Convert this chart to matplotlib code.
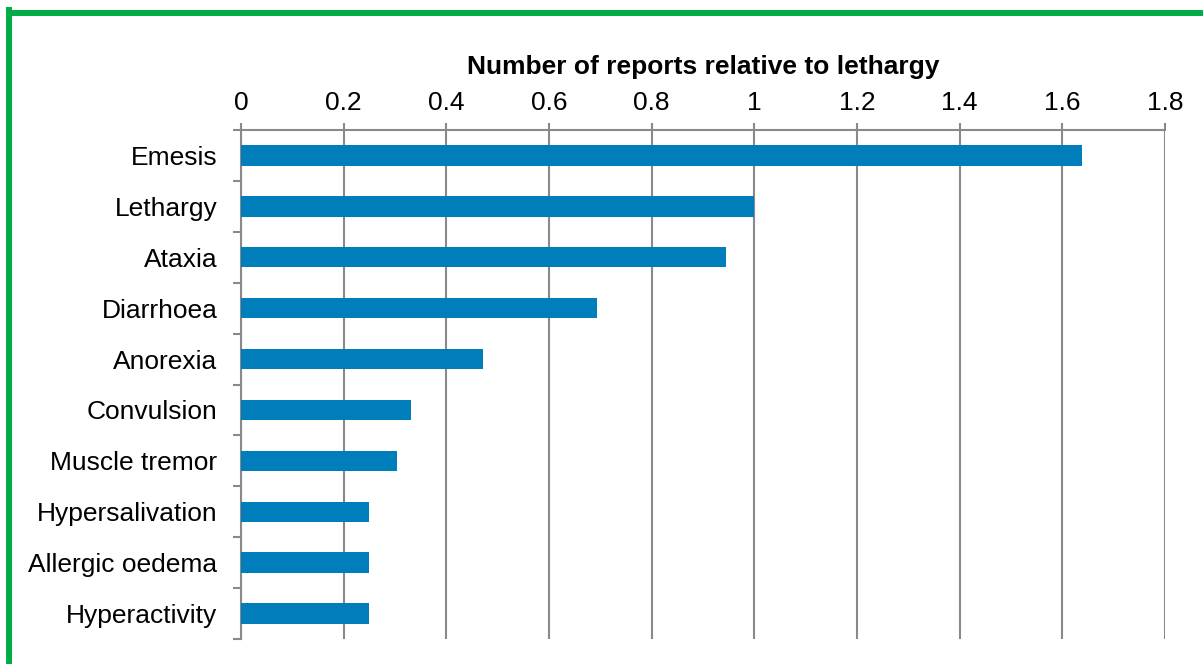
import matplotlib
matplotlib.use("Agg")
import matplotlib.pyplot as plt
from matplotlib.lines import Line2D
import numpy as np

categories = ["Emesis", "Lethargy", "Ataxia", "Diarrhoea", "Anorexia",
              "Convulsion", "Muscle tremor", "Hypersalivation",
              "Allergic oedema", "Hyperactivity"]
values = [1.638, 1.0, 0.945, 0.694, 0.471, 0.331, 0.304, 0.249, 0.25, 0.25]
xticks = [0, 0.2, 0.4, 0.6, 0.8, 1.0, 1.2, 1.4, 1.6, 1.8]
xticklabels = ["0", "0.2", "0.4", "0.6", "0.8", "1", "1.2", "1.4", "1.6", "1.8"]
title = "Number of reports relative to lethargy"

plt.rcParams['font.family'] = ['Liberation Sans', 'DejaVu Sans']

W, H = 1203, 664
fig = plt.figure(figsize=(W / 100, H / 100), dpi=100)
ax = fig.add_axes([241 / W, 1 - 639 / H, (1165 - 241) / W, (639 - 130) / H])

gray = "#898989"
y = np.arange(len(categories))
ax.barh(y, values, height=0.4, color="#007DBB", zorder=3)

ax.set_ylim(len(categories) - 0.5, -0.5)
ax.set_xlim(0, 1.8)

ax.xaxis.tick_top()
ax.xaxis.set_label_position("top")
ax.set_xticks(xticks)
ax.set_xticklabels(xticklabels, fontsize=19)
ax.set_xlabel(title, fontsize=19, fontweight="bold", labelpad=12)
ax.tick_params(axis="x", direction="out", length=5, width=1.5, color=gray, pad=6)

ax.set_yticks(y)
ax.set_yticklabels(categories, fontsize=19)
ax.set_yticks(np.arange(len(categories) + 1) - 0.5, minor=True)
ax.tick_params(axis="y", which="major", length=0, pad=17)
ax.tick_params(axis="y", which="minor", direction="out", length=5.8, width=1.5, color=gray)

ax.grid(axis="x", color=gray, linewidth=1.5, zorder=0)
for s in ["right", "bottom"]:
    ax.spines[s].set_visible(False)
for s in ["left", "top"]:
    ax.spines[s].set_color(gray)
    ax.spines[s].set_linewidth(1.5)

green = "#00AC46"
fig.add_artist(Line2D([9 / W, 9 / W], [0, 1 - 10 / H], color=green, linewidth=4.3,
                      transform=fig.transFigure, solid_capstyle="projecting"))
fig.add_artist(Line2D([9 / W, 1.0], [1 - 13 / H, 1 - 13 / H], color=green, linewidth=4.3,
                      transform=fig.transFigure, solid_capstyle="projecting"))

fig.savefig("out.png", dpi=100)
